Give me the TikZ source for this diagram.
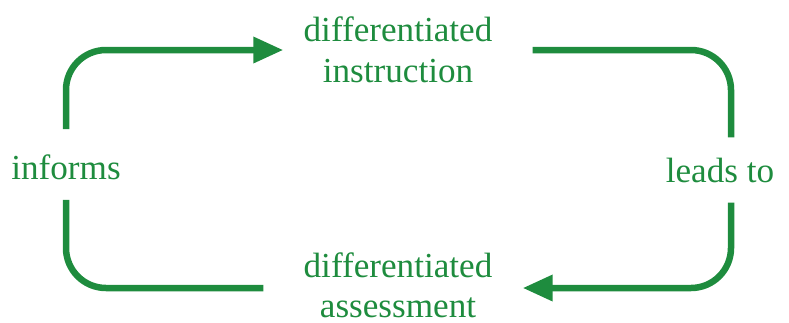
\documentclass[tikz,border=0pt]{standalone}
\usepackage{fontspec}
\setmainfont{Liberation Serif}
\usetikzlibrary{arrows.meta}
\definecolor{cyclegreen}{RGB}{30,140,62}
\tikzset{
  lbl/.style={text=cyclegreen, inner sep=0pt, align=center, font=\fontsize{20}{23}\selectfont},
  flow/.style={draw=cyclegreen, line width=1.3mm, rounded corners=8mm}
}
\begin{document}
\begin{tikzpicture}[x=0.2mm,y=-0.2mm]
\useasboundingbox (0,0) rectangle (789,322);
\node[lbl] (instr) at (398,50) {differentiated\\instruction};
\node[lbl] (assess) at (398,285) {differentiated\\assessment};
\node[lbl] (inf) at (66,167) {informs};
\node[lbl] (leads) at (720,170) {leads to};

\draw[flow, -{Triangle[length=6mm,width=5mm]}, shorten <=5mm, shorten >=4mm] (inf.north) |- (instr.west);
\draw[flow, shorten <=8mm, shorten >=4mm] (instr.east) -| ([xshift=2.2mm]leads.north);
\draw[flow, -{Triangle[length=6mm,width=5mm]}, shorten <=4mm, shorten >=6mm] ([xshift=2.2mm]leads.south) |- ([yshift=-0.6mm]assess.east);
\draw[flow, shorten <=8mm, shorten >=4mm] ([yshift=-0.6mm]assess.west) -| (inf.south);
\end{tikzpicture}
\end{document}
